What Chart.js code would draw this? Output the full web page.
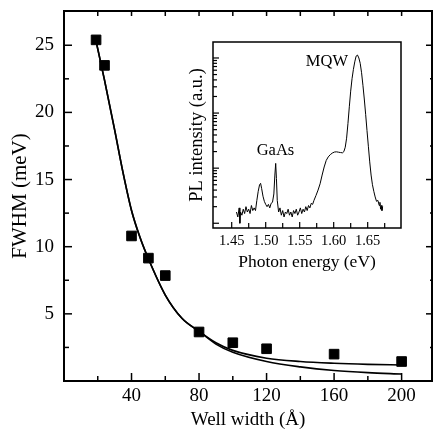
<!DOCTYPE html>
<html><head><meta charset="utf-8">
<script src="https://cdn.jsdelivr.net/npm/chart.js@4.4.0/dist/chart.umd.min.js"></script>
<style>
html,body{margin:0;padding:0;background:#fff;}
#wrap{position:relative;width:433px;height:434px;overflow:hidden;}
#main{position:absolute;left:0;top:0;}
#inset{position:absolute;left:180px;top:20px;}
</style></head><body>
<div id="wrap"><canvas id="main" width="433" height="434"></canvas><canvas id="inset" width="240" height="265"></canvas></div>
<script>
// ---- main plot data ----
const wellWidth = [19, 24, 40, 50, 60, 80, 100, 120, 160, 200];
const fwhm      = [25.4, 23.5, 10.8, 9.15, 7.85, 3.65, 2.85, 2.4, 2.0, 1.45];
const fitX      = [19, 24, 30, 35, 40, 45, 50, 60, 70, 80, 90, 100, 120, 140, 160, 180, 200];
const fitUpper  = [25.3, 22.4, 18.7, 15.5, 12.7, 10.7, 9.1, 6.4, 4.65, 3.7, 2.85, 2.28, 1.7, 1.45, 1.32, 1.24, 1.19];
const fitLower  = [25.3, 22.4, 18.7, 15.5, 12.7, 10.7, 9.1, 6.4, 4.65, 3.7, 2.75, 2.14, 1.45, 1.05, 0.78, 0.62, 0.52];
const xTickLabels = [40, 80, 120, 160, 200];
const xMinorTicks = [20, 60, 100, 140, 180];
const xAllTicks   = [20, 40, 60, 80, 100, 120, 140, 160, 180, 200];
const yTickLabels = [5, 10, 15, 20, 25];
const yMinorTicks = [2.5, 7.5, 12.5, 17.5, 22.5];

// ---- inset data ----
const specE = [1.457,1.459,1.461,1.462,1.463,1.465,1.467,1.469,1.471,1.473,1.475,1.477,1.479,1.481,1.483,1.485,1.487,1.489,1.491,1.4925,1.494,1.496,1.498,1.500,1.502,1.504,1.506,1.508,1.510,1.512,1.5135,1.5147,1.5158,1.517,1.519,1.521,1.523,1.525,1.527,1.529,1.531,1.533,1.535,1.537,1.539,1.541,1.543,1.545,1.547,1.549,1.551,1.553,1.555,1.557,1.559,1.561,1.563,1.565,1.567,1.569,1.571,1.574,1.577,1.580,1.583,1.586,1.589,1.592,1.595,1.598,1.601,1.604,1.607,1.610,1.613,1.615,1.617,1.619,1.621,1.623,1.625,1.627,1.629,1.631,1.633,1.635,1.637,1.639,1.641,1.643,1.645,1.647,1.649,1.651,1.653,1.655,1.657,1.659,1.661,1.663,1.665,1.667,1.668,1.669,1.670,1.671,1.672];
const specI = [1.6,1.3,1.9,1.0,1.6,1.4,1.8,1.5,2.0,1.6,1.8,1.5,2.1,1.7,1.9,1.7,2.6,3.8,5.0,5.3,4.3,3.1,2.5,2.2,2.0,2.2,1.9,2.3,2.4,3.4,7.5,12.2,6.5,2.6,1.6,1.9,1.4,1.7,1.3,1.6,1.5,1.8,1.4,1.6,1.3,1.7,1.5,1.8,1.4,1.6,1.9,1.5,1.8,1.6,2.0,1.7,2.1,1.9,2.3,2.2,2.6,3.2,4.0,5.2,7.5,10.5,13.8,16.0,17.6,18.8,19.6,19.8,19.5,19.2,19.0,20,24,35,65,130,250,420,620,850,1080,1130,1000,800,540,320,180,95,48,25,13,7.5,5.0,3.8,3.0,2.5,2.6,2.1,2.4,1.8,2.1,1.7,2.0];
const insetXTickLabels = [1.45, 1.50, 1.55, 1.60, 1.65];
const insetXMinorTicks = [1.475, 1.525, 1.575, 1.625, 1.675];
const insetYMajorTicks = [1, 10, 100, 1000];
const insetYMinorTicks = [2,3,4,5,6,7,8,9,20,30,40,50,60,70,80,90,200,300,400,500,600,700,800,900];
const annoText = ['MQW', 'GaAs'];
const annoX    = [1.590, 1.5144];
const annoY    = [845, 21];

const serif = "'Liberation Serif', 'Times New Roman', serif";
Chart.defaults.color = '#000';

function noPad(s) { s.paddingTop = 0; s.paddingBottom = 0; s.paddingLeft = 0; s.paddingRight = 0; }

function framePlugin(spec) {
  return {
    id: 'frame' + Math.random().toString(36).slice(2),
    afterDatasetsDraw(chart) {
      const {ctx, chartArea: a, scales} = chart;
      ctx.save();
      ctx.strokeStyle = '#000';
      ctx.lineWidth = spec.tickWidth;
      for (const t of spec.ticks) {
        const sc = scales[t.axis];
        for (const v of t.values) {
          const p = sc.getPixelForValue(v);
          ctx.beginPath();
          if (t.side === 'bottom') { ctx.moveTo(p, a.bottom); ctx.lineTo(p, a.bottom - t.len); }
          else if (t.side === 'top') { ctx.moveTo(p, a.top); ctx.lineTo(p, a.top + t.len); }
          else if (t.side === 'left') { ctx.moveTo(a.left, p); ctx.lineTo(a.left + t.len, p); }
          else { ctx.moveTo(a.right, p); ctx.lineTo(a.right - t.len, p); }
          ctx.stroke();
        }
      }
      ctx.lineWidth = spec.lineWidth;
      ctx.strokeRect(a.left, a.top, a.right - a.left, a.bottom - a.top);
      if (spec.labels) {
        ctx.fillStyle = '#000';
        ctx.font = spec.labels.font;
        ctx.textAlign = 'center';
        ctx.textBaseline = 'middle';
        spec.labels.text.forEach((s, i) => {
          ctx.fillText(s, scales.x.getPixelForValue(spec.labels.x[i]), scales.y.getPixelForValue(spec.labels.y[i]));
        });
      }
      ctx.restore();
    }
  };
}

new Chart(document.getElementById('main'), {
  type: 'scatter',
  data: { datasets: [
    { type: 'line', data: fitX.map((x, i) => ({x, y: fitUpper[i]})), borderColor: '#000', borderWidth: 1.6,
      pointRadius: 0, cubicInterpolationMode: 'monotone', fill: false },
    { type: 'line', data: fitX.map((x, i) => ({x, y: fitLower[i]})), borderColor: '#000', borderWidth: 1.6,
      pointRadius: 0, cubicInterpolationMode: 'monotone', fill: false },
    { type: 'scatter', data: wellWidth.map((x, i) => ({x, y: fwhm[i]})), pointStyle: 'rect', pointRadius: 6.8,
      backgroundColor: '#000', borderColor: '#000', borderWidth: 1 }
  ]},
  options: {
    responsive: false, animation: false, devicePixelRatio: 1,
    layout: { autoPadding: false, padding: { top: 11, right: 1, left: 0, bottom: 0 } },
    plugins: { legend: { display: false }, tooltip: { enabled: false } },
    scales: {
      x: { type: 'linear', min: 0, max: 218,
        grid: { display: false, drawTicks: false }, border: { display: false },
        afterBuildTicks: s => { s.ticks = xTickLabels.map(v => ({value: v})); },
        afterFit: s => { s.height = 53; noPad(s); },
        ticks: { font: { family: serif, size: 19 }, color: '#000', padding: 4, maxRotation: 0, autoSkip: false },
        title: { display: true, text: 'Well width (Å)', font: { family: serif, size: 19 }, color: '#000', padding: { top: 0, bottom: 3 } }
      },
      y: { type: 'linear', min: 0, max: 27.55,
        grid: { display: false, drawTicks: false }, border: { display: false },
        afterBuildTicks: s => { s.ticks = yTickLabels.map(v => ({value: v})); },
        afterFit: s => { s.width = 64; noPad(s); },
        ticks: { font: { family: serif, size: 19 }, color: '#000', padding: 10, autoSkip: false },
        title: { display: true, text: 'FWHM (meV)', font: { family: serif, size: 21 }, color: '#000', padding: { top: 8, bottom: 0 } }
      }
    }
  },
  plugins: [framePlugin({
    lineWidth: 2, tickWidth: 1.5,
    ticks: [
      {axis: 'x', side: 'bottom', values: xMinorTicks, len: 5},
      {axis: 'x', side: 'bottom', values: xTickLabels, len: 8},
      {axis: 'x', side: 'top', values: xAllTicks, len: 5},
      {axis: 'y', side: 'left', values: yMinorTicks, len: 5},
      {axis: 'y', side: 'left', values: yTickLabels, len: 8},
      {axis: 'y', side: 'right', values: yTickLabels, len: 6},
      {axis: 'y', side: 'right', values: yMinorTicks, len: 2}
    ]
  })]
});

new Chart(document.getElementById('inset'), {
  type: 'line',
  data: { datasets: [
    { data: specE.map((x, i) => ({x, y: specI[i]})), borderColor: '#000', borderWidth: 1, pointRadius: 0, tension: 0, fill: false }
  ]},
  options: {
    responsive: false, animation: false, devicePixelRatio: 1,
    layout: { autoPadding: false, padding: { top: 22, right: 19, left: 0, bottom: 0 } },
    plugins: { legend: { display: false }, tooltip: { enabled: false } },
    scales: {
      x: { type: 'linear', min: 1.4225, max: 1.699,
        grid: { display: false, drawTicks: false }, border: { display: false },
        afterBuildTicks: s => { s.ticks = insetXTickLabels.map(v => ({value: v})); },
        afterFit: s => { s.height = 57; noPad(s); },
        ticks: { font: { family: serif, size: 14.5 }, color: '#000', padding: 4, maxRotation: 0, autoSkip: false,
          callback: v => Number(v).toFixed(2) },
        title: { display: true, text: 'Photon energy (eV)', font: { family: serif, size: 17.5 }, color: '#000', padding: { top: 0, bottom: 12 } }
      },
      y: { type: 'logarithmic', min: 0.82, max: 1950,
        grid: { display: false, drawTicks: false }, border: { display: false },
        afterFit: s => { s.width = 33; noPad(s); },
        ticks: { display: false },
        title: { display: true, text: 'PL intensity (a.u.)', font: { family: serif, size: 18.5 }, color: '#000', padding: { top: 6, bottom: 0 } }
      }
    }
  },
  plugins: [framePlugin({
    lineWidth: 1.5, tickWidth: 1.2,
    ticks: [
      {axis: 'x', side: 'bottom', values: insetXTickLabels, len: 6},
      {axis: 'x', side: 'bottom', values: insetXMinorTicks, len: 5},
      {axis: 'y', side: 'left', values: insetYMajorTicks, len: 6},
      {axis: 'y', side: 'left', values: insetYMinorTicks, len: 4}
    ],
    labels: { text: annoText, x: annoX, y: annoY, font: "16.5px 'Liberation Serif', serif" }
  })]
});
</script>
</body></html>
